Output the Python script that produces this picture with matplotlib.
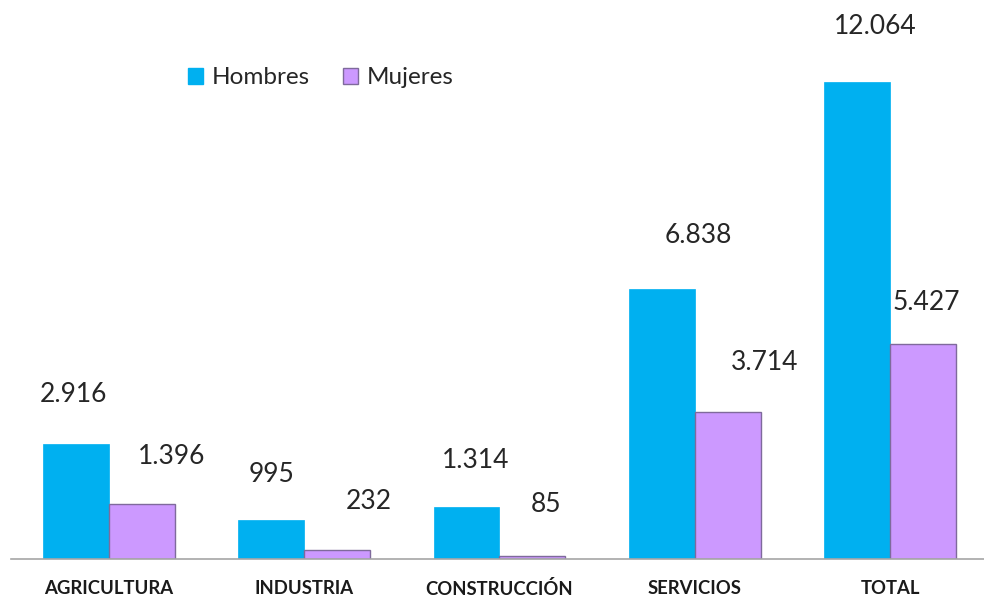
import matplotlib.pyplot as plt
import numpy as np
from matplotlib.patches import Patch

# --- Data ---
categories = ["AGRICULTURA", "INDUSTRIA", "CONSTRUCCIÓN", "SERVICIOS", "TOTAL"]
hombres = [2916, 995, 1314, 6838, 12064]
mujeres = [1396, 232, 85, 3714, 5427]
hombres_labels = ["2.916", "995", "1.314", "6.838", "12.064"]
mujeres_labels = ["1.396", "232", "85", "3.714", "5.427"]

# label positions relative to bar top (pixels), as placed in the original
h_dx = [-2, 0, 9, 36, 18]
h_dy = [52, 48, 49, 56, 58]
m_dx = [30, 32, 14, 37, 3]
m_dy = [50, 51, 54, 52, 44]

C_H = "#00B0F0"
C_M = "#CC99FF"
TXT = "#262626"

plt.rcParams["font.family"] = ["Lato", "DejaVu Sans"]

W, H = 984, 598
fig = plt.figure(figsize=(W / 100, H / 100), dpi=100)
ax = fig.add_axes([11 / W, 39 / H, 973 / W, 559 / H])

x = np.arange(len(categories))
bw = 0.337
ax.bar(x - bw / 2, hombres, bw, color=C_H, edgecolor=C_H, linewidth=0.5)
ax.bar(x + bw / 2, mujeres, bw, color=C_M, edgecolor="#7F6A9C", linewidth=1.0)

ax.set_xlim(-0.5, 4.48)
ax.set_ylim(0, 14138)

for i in range(len(categories)):
    ax.annotate(hombres_labels[i], (x[i] - bw / 2, hombres[i]),
                xytext=(h_dx[i], h_dy[i] - 10), textcoords="offset pixels",
                ha="center", va="baseline", fontsize=19, color=TXT)
    ax.annotate(mujeres_labels[i], (x[i] + bw / 2, mujeres[i]),
                xytext=(m_dx[i], m_dy[i] - 10), textcoords="offset pixels",
                ha="center", va="baseline", fontsize=19, color=TXT)

for s in ["top", "right", "left"]:
    ax.spines[s].set_visible(False)
ax.spines["bottom"].set_color("#A6A6A6")
ax.spines["bottom"].set_linewidth(1.2)
ax.set_yticks([])
ax.set_xticks(x)
ax.set_xticklabels(categories, fontsize=13.3, fontweight="bold", color="#1a1a1a")
ax.tick_params(axis="x", length=0, pad=15)

handles = [Patch(facecolor=C_H, edgecolor=C_H, label="Hombres"),
           Patch(facecolor=C_M, edgecolor="#7F6A9C", label="Mujeres")]
fig.legend(handles=handles, loc="center left", bbox_to_anchor=(176 / W, 1 - 78 / H),
           ncol=2, frameon=False, fontsize=17.5, handlelength=0.62, handleheight=0.62,
           handletextpad=0.35, columnspacing=1.37, borderpad=0, labelcolor=TXT)

fig.savefig("out.png", dpi=100)
